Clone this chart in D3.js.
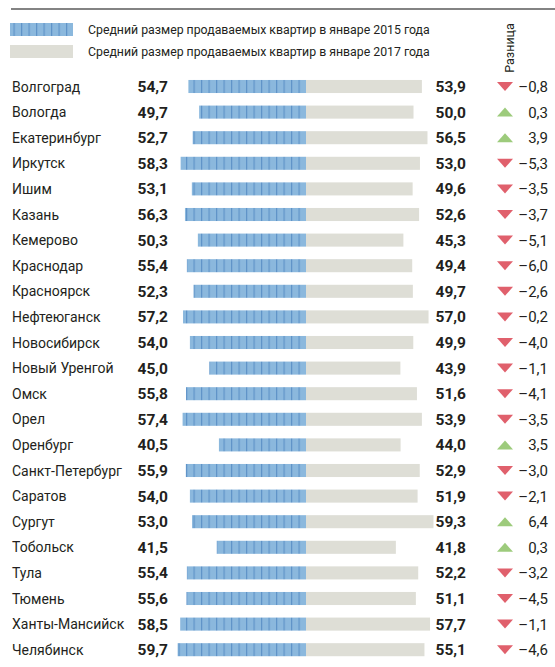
<!DOCTYPE html>
<html lang="ru">
<head>
    <meta charset="UTF-8">
    <title>Средний размер продаваемых квартир</title>
    <style>
        body {
            margin: 0;
            background-color: #fff;
        }
        svg text {
            font-family: "Roboto", "Liberation Sans", sans-serif;
            fill: #231f20;
        }
        .num {
            font-weight: bold;
        }
    </style>
    <script src="https://d3js.org/d3.v7.min.js"></script>
</head>
<body>
    <svg id="chart" width="555" height="667"></svg>
    <script>
        // Data
        const cities = ["Волгоград", "Вологда", "Екатеринбург", "Иркутск", "Ишим", "Казань", "Кемерово",
            "Краснодар", "Красноярск", "Нефтеюганск", "Новосибирск", "Новый Уренгой", "Омск", "Орел",
            "Оренбург", "Санкт-Петербург", "Саратов", "Сургут", "Тобольск", "Тула", "Тюмень",
            "Ханты-Мансийск", "Челябинск"];
        const size2015 = [54.7, 49.7, 52.7, 58.3, 53.1, 56.3, 50.3, 55.4, 52.3, 57.2, 54.0, 45.0, 55.8, 57.4,
            40.5, 55.9, 54.0, 53.0, 41.5, 55.4, 55.6, 58.5, 59.7];
        const size2017 = [53.9, 50.0, 56.5, 53.0, 49.6, 52.6, 45.3, 49.4, 49.7, 57.0, 49.9, 43.9, 51.6, 53.9,
            44.0, 52.9, 51.9, 59.3, 41.8, 52.2, 51.1, 57.7, 55.1];
        const diff = [-0.8, 0.3, 3.9, -5.3, -3.5, -3.7, -5.1, -6.0, -2.6, -0.2, -4.0, -1.1, -4.1, -3.5,
            3.5, -3.0, -2.1, 6.4, 0.3, -3.2, -4.5, -1.1, -4.6];
        const legendLabels = ["Средний размер продаваемых квартир в январе 2015 года",
            "Средний размер продаваемых квартир в январе 2017 года"];

        const rows = cities.map((c, i) => ({ city: c, a: size2015[i], b: size2017[i], d: diff[i] }));

        const svg = d3.select("#chart");
        const center = 306;
        const blue = "#8bb8dd", stripe = "#5f93c8", grey = "#deded6";
        const red = "#e0606c", green = "#9dcb7c";

        // length of a bar from the center line
        const len = d3.scaleLinear().domain([0, 10]).range([0, 21.5]);
        const y = d3.scaleBand().domain(cities).range([73.7, 662.5]).paddingInner(0.49).paddingOuter(0.245);

        const fmt = v => d3.format(".1f")(Math.abs(v)).replace(".", ",");

        // striped pattern for the 2015 bars
        const defs = svg.append("defs");
        const pat = defs.append("pattern")
            .attr("id", "stripes")
            .attr("patternUnits", "userSpaceOnUse")
            .attr("width", 7.5).attr("height", 20)
            .attr("x", center);
        pat.append("rect").attr("width", 7.5).attr("height", 20).attr("fill", blue);
        pat.append("rect").attr("x", 0).attr("width", 1.2).attr("height", 20).attr("fill", stripe);

        // top rule
        svg.append("line")
            .attr("x1", 11).attr("x2", 555).attr("y1", 9).attr("y2", 9)
            .attr("stroke", "#5a5a5a").attr("stroke-width", 1.5);

        // legend
        const legend = svg.append("g");
        legend.append("rect").attr("x", 10).attr("y", 23).attr("width", 63).attr("height", 13)
            .attr("fill", "url(#stripes)");
        legend.append("rect").attr("x", 10).attr("y", 45).attr("width", 63).attr("height", 13)
            .attr("fill", grey);
        legend.selectAll("text.leg")
            .data(legendLabels)
            .enter().append("text")
            .attr("class", "leg")
            .attr("x", 88)
            .attr("y", (d, i) => 30 + i * 21.5)
            .attr("dy", "0.35em")
            .attr("font-size", 12.3)
            .text(d => d);
        legend.append("text")
            .attr("transform", "translate(510,48) rotate(-90)")
            .attr("text-anchor", "middle")
            .attr("dy", "0.35em")
            .attr("font-size", 12.5)
            .text("Разница");

        const row = svg.append("g").selectAll("g")
            .data(rows)
            .enter().append("g")
            .attr("transform", d => `translate(0,${y(d.city)})`);

        const h = y.bandwidth(), mid = h / 2;

        row.append("rect")
            .attr("x", center)
            .attr("width", d => len(d.b))
            .attr("height", h)
            .attr("fill", grey);

        row.append("rect")
            .attr("x", d => center - len(d.a))
            .attr("width", d => len(d.a))
            .attr("height", h)
            .attr("fill", "url(#stripes)");

        row.append("text")
            .attr("x", 12).attr("y", mid).attr("dy", "0.36em")
            .attr("font-size", 14)
            .text(d => d.city);

        row.append("text")
            .attr("class", "num")
            .attr("x", 168).attr("y", mid).attr("dy", "0.36em")
            .attr("text-anchor", "end")
            .attr("font-size", 15.5)
            .text(d => fmt(d.a));

        row.append("text")
            .attr("class", "num")
            .attr("x", 466).attr("y", mid).attr("dy", "0.36em")
            .attr("text-anchor", "end")
            .attr("font-size", 15.5)
            .text(d => fmt(d.b));

        // up / down markers
        row.append("path")
            .attr("transform", `translate(505,${mid})`)
            .attr("d", d => d.d < 0 ? "M-8,-4.5L8,-4.5L0,4.5Z" : "M-8,4.5L8,4.5L0,-4.5Z")
            .attr("fill", d => d.d < 0 ? red : green);

        row.append("text")
            .attr("x", 548).attr("y", mid).attr("dy", "0.36em")
            .attr("text-anchor", "end")
            .attr("font-size", 15)
            .text(d => (d.d < 0 ? "–" : "") + fmt(d.d));
    </script>
</body>
</html>
